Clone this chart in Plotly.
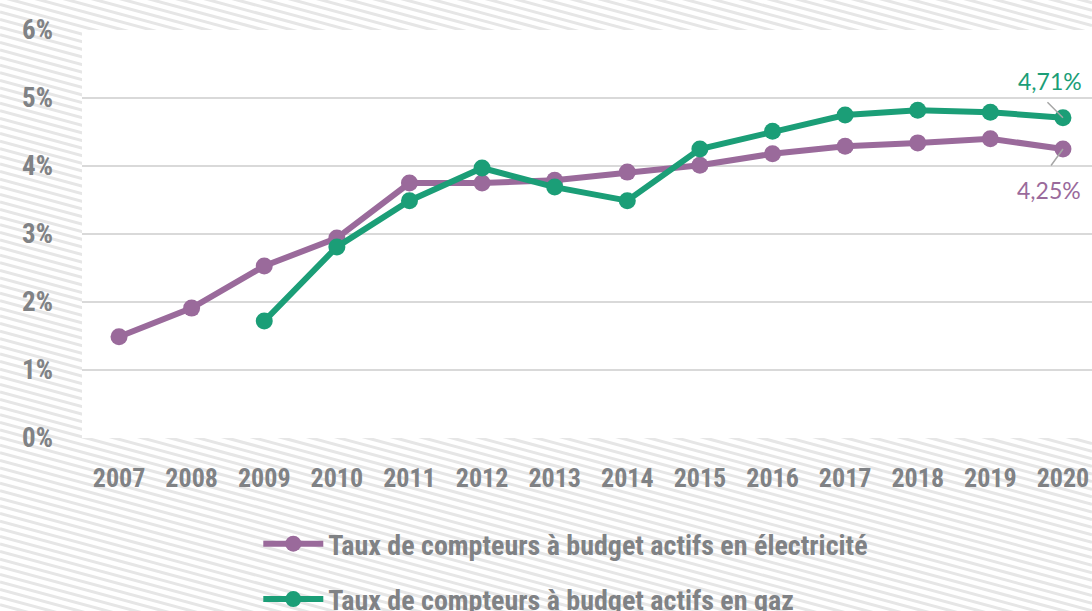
import plotly.graph_objects as go

years = [2007, 2008, 2009, 2010, 2011, 2012, 2013, 2014, 2015, 2016, 2017, 2018, 2019, 2020]
elec = [1.49, 1.91, 2.53, 2.94, 3.75, 3.75, 3.79, 3.91, 4.01, 4.18, 4.29, 4.34, 4.40, 4.25]
gas_years = [2009, 2010, 2011, 2012, 2013, 2014, 2015, 2016, 2017, 2018, 2019, 2020]
gas = [1.72, 2.81, 3.49, 3.97, 3.69, 3.49, 4.25, 4.51, 4.75, 4.82, 4.79, 4.71]
y_ticks = [0, 1, 2, 3, 4, 5, 6]
y_labels = ["0%", "1%", "2%", "3%", "4%", "5%", "6%"]
name_elec = "Taux de compteurs à budget actifs en électricité"
name_gas = "Taux de compteurs à budget actifs en gaz"
label_elec = "4,25%"
label_gas = "4,71%"

PURPLE = "#9a6a9b"
GREEN = "#1b9e77"
GRAY = "#808285"
FONT = "Roboto Condensed, Liberation Sans Narrow, DejaVu Sans Condensed, Arial Narrow, sans-serif"

W, H = 1092, 611
ML, MR, MT, MB = 82, 0, 30, 173
PW, PH = W - ML - MR, H - MT - MB


def px2paper(px, py):
    return (px - ML) / PW, (H - MB - py) / PH


fig = go.Figure()
fig.add_trace(go.Scatter(
    x=years, y=elec, mode="lines+markers", name=name_elec,
    line=dict(color=PURPLE, width=6), marker=dict(color=PURPLE, size=17),
    legendgroup="a",
))
fig.add_trace(go.Scatter(
    x=gas_years, y=gas, mode="lines+markers", name=name_gas,
    line=dict(color=GREEN, width=6), marker=dict(color=GREEN, size=17),
    legendgroup="b",
))

# hatched background
shapes = []
slope = 0.27
step = 7.6
c = -slope * W - 20
while c < H + 20:
    x0, y0 = px2paper(0, c)
    x1, y1 = px2paper(W, c + slope * W)
    shapes.append(dict(type="line", xref="paper", yref="paper", x0=x0, y0=y0, x1=x1, y1=y1,
                       line=dict(color="#e6e6e6", width=3), layer="below"))
    c += step
shapes.append(dict(type="rect", xref="paper", yref="paper", x0=0, y0=0, x1=1, y1=1,
                   fillcolor="white", line=dict(width=0), layer="below"))

annotations = [
    dict(x=years[-1], y=gas[-1], text="", showarrow=True, arrowhead=0, arrowwidth=1.5,
         arrowcolor="#a6a6a6", ax=-17, ay=-17, standoff=0),
    dict(x=years[-1], y=elec[-1], text="", showarrow=True, arrowhead=0, arrowwidth=1.5,
         arrowcolor="#a6a6a6", ax=-13, ay=18, standoff=0),
    dict(x=years[-1], y=gas[-1], text=label_gas, showarrow=False, xshift=-13, yshift=37,
         font=dict(family="Lato, sans-serif", size=23, color=GREEN)),
    dict(x=years[-1], y=elec[-1], text=label_elec, showarrow=False, xshift=-14, yshift=-41,
         font=dict(family="Lato, sans-serif", size=23, color=PURPLE)),
]

fig.update_layout(
    width=W, height=H,
    margin=dict(l=ML, r=MR, t=MT, b=MB, autoexpand=False),
    paper_bgcolor="white", plot_bgcolor="rgba(0,0,0,0)",
    shapes=shapes, annotations=annotations,
    font=dict(family=FONT, color=GRAY),
    xaxis=dict(range=[2006.49, 2020.40], tickvals=years, ticktext=[str(y) for y in years],
               showgrid=False, zeroline=False, showline=False, automargin=False,
               ticklabeloverflow="allow",
               tickfont=dict(family=FONT, size=26, color=GRAY, weight="bold"),
               ticklabelstandoff=22),
    yaxis=dict(range=[0, 6], tickvals=y_ticks, ticktext=y_labels, showgrid=True,
               gridcolor="#d9d9d9", gridwidth=2, zeroline=False, showline=False, automargin=False,
               tickfont=dict(family=FONT, size=27, color=GRAY, weight="bold"),
               ticklabelstandoff=28),
    legend=dict(orientation="v", x=0.479, xanchor="center", y=(438 - 519) / PH, yanchor="top",
                font=dict(family=FONT, size=28, color=GRAY, weight="bold"),
                tracegroupgap=16, bgcolor="rgba(0,0,0,0)", itemwidth=60),
    showlegend=True,
)

fig.write_html("out.html")
